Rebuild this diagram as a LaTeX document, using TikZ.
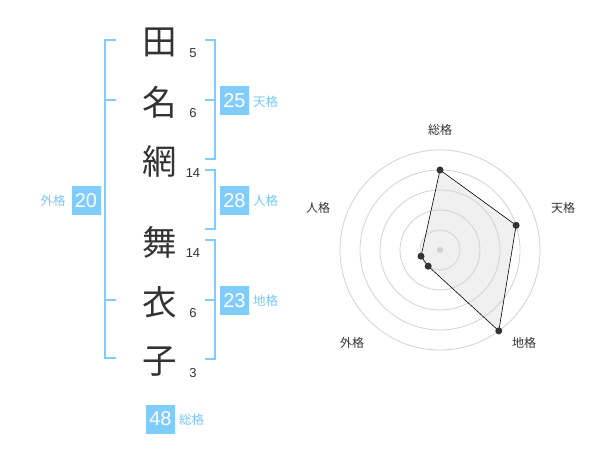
\documentclass[tikz,border=0pt]{standalone}
\usepackage{fontspec}
\setmainfont{Liberation Sans}
\newfontfamily\cjk{Noto Sans CJK JP}
\definecolor{bl}{RGB}{128,204,250}
\definecolor{bltxt}{RGB}{120,200,245}
\definecolor{dk}{RGB}{51,51,51}
\definecolor{ring}{RGB}{210,210,210}
\definecolor{fillg}{RGB}{240,240,240}
\begin{document}
\begin{tikzpicture}[x=1pt,y=-1pt,
  bigch/.style={font=\cjk\fontsize{34.5}{34.5}\selectfont, text=dk, inner sep=0pt},
  num/.style={font=\fontsize{13}{13}\selectfont, text=dk, inner sep=0pt},
  valbox/.style={fill=bl, text=white, minimum width=29pt, minimum height=29pt, inner sep=0pt, font=\fontsize{20}{20}\selectfont},
  lab/.style={font=\cjk\fontsize{12.5}{12.5}\selectfont, text=bltxt, inner sep=0pt},
  brk/.style={draw=bl, line width=2pt},
  rlab/.style={font=\cjk\fontsize{12}{12}\selectfont, text=dk, inner sep=0pt},
  ringst/.style={draw=ring, line width=0.8pt},
  dot/.style={circle, fill=dk, inner sep=0pt, minimum size=7pt}]
\useasboundingbox (0,0) rectangle (600,470);
% characters
\node[bigch] (c1) at (160,42) {田};
\node[bigch] (c2) at (160,102) {名};
\node[bigch] (c3) at (160,161) {網};
\node[bigch] (c4) at (160,242) {舞};
\node[bigch] (c5) at (160,302) {衣};
\node[bigch] (c6) at (160,362) {子};
\node[num] (n1) at (193,53) {5};
\node[num] (n2) at (193,113) {6};
\node[num] (n3) at (193,173) {14};
\node[num] (n4) at (193,253) {14};
\node[num] (n5) at (193,313) {6};
\node[num] (n6) at (193,373) {3};
% brackets
\draw[brk] (115.5,40) -- (104.5,40) -- (104.5,358.5) -- (115.5,358.5);
\draw[brk] (104.5,100) -- (115.5,100);
\draw[brk] (104.5,300) -- (115.5,300);
\draw[brk] (204.5,40) -- (214.5,40) -- (214.5,159.5) -- (204.5,159.5);
\draw[brk] (204.5,100) -- (214.5,100);
\draw[brk] (204.5,170) -- (214.5,170) -- (214.5,229.5) -- (204.5,229.5);
\draw[brk] (204.5,240) -- (214.5,240) -- (214.5,359.5) -- (204.5,359.5);
\draw[brk] (204.5,300) -- (214.5,300);
% value boxes
\node[valbox] (gai) at (86,200.5) {20};
\node[lab] (gail) at (53,201) {外格};
\node[valbox] (ten) at (234.5,101) {25};
\node[lab] (tenl) at (265.5,101.5) {天格};
\node[valbox] (jin) at (234.5,200.5) {28};
\node[lab] (jinl) at (265.5,201) {人格};
\node[valbox] (chi) at (234.5,300.5) {23};
\node[lab] (chil) at (265.5,301) {地格};
\node[valbox] (sou) at (160.5,419) {48};
\node[lab] (soul) at (191.5,419.5) {総格};
% radar
\coordinate (O) at (440,250);
\fill[fillg]
  (440,170) -- (516.1,225.3) -- (498.8,330.9) -- (428.2,266.2) -- (421,256.2) -- cycle;
\foreach \r in {20,40,60,80,100} \draw[ringst] (O) circle[radius=\r];
\draw[black, line width=0.6pt]
  (440,170) -- (516.1,225.3) -- (498.8,330.9) -- (428.2,266.2) -- (421,256.2) -- cycle;
\fill[ring] (O) circle[radius=3.2];
\node[dot] (p1) at (440,170) {};
\node[dot] (p2) at (516.1,225.3) {};
\node[dot] (p3) at (498.8,330.9) {};
\node[dot] (p4) at (428.2,266.2) {};
\node[dot] (p5) at (421,256.2) {};
\node[rlab] (r1) at (440,130) {総格};
\node[rlab] (r2) at (563,208) {天格};
\node[rlab] (r3) at (524,343) {地格};
\node[rlab] (r4) at (352,343) {外格};
\node[rlab] (r5) at (318,208) {人格};
\end{tikzpicture}
\end{document}
